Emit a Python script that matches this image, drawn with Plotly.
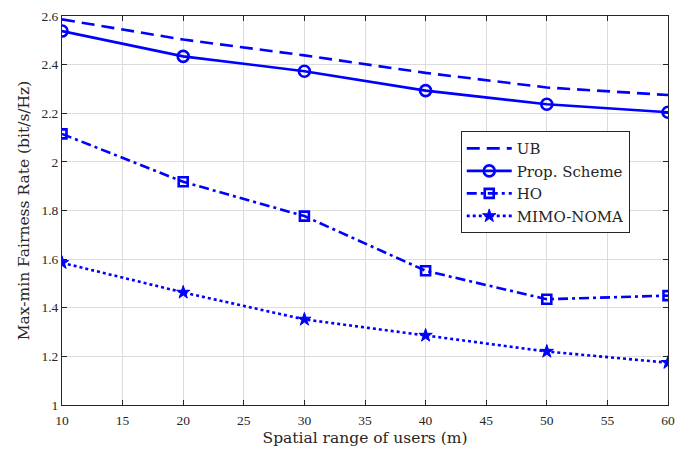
import plotly.graph_objects as go

x_vals = [10, 20, 30, 40, 50, 60]
ub = [2.586, 2.503, 2.438, 2.366, 2.306, 2.275]
prop = [2.538, 2.434, 2.373, 2.293, 2.237, 2.204]
ho = [2.115, 1.918, 1.777, 1.552, 1.435, 1.450]
mimo = [1.585, 1.463, 1.352, 1.286, 1.220, 1.174]

x_ticks = [10, 15, 20, 25, 30, 35, 40, 45, 50, 55, 60]
y_ticks = [1, 1.2, 1.4, 1.6, 1.8, 2, 2.2, 2.4, 2.6]
y_tick_labels = ["1", "1.2", "1.4", "1.6", "1.8", "2", "2.2", "2.4", "2.6"]

TICK_FONT = "Liberation Serif"
TEXT_FONT = "DejaVu Serif"
BLUE = "#0000ff"
DARK = "#262626"

fig = go.Figure()
fig.add_trace(go.Scatter(x=x_vals, y=ub, name="UB", mode="lines",
                         line=dict(color=BLUE, width=2.6, dash="13px,7px")))
fig.add_trace(go.Scatter(x=x_vals, y=prop, name="Prop. Scheme", mode="lines+markers",
                         line=dict(color=BLUE, width=2.6),
                         marker=dict(symbol="circle-open", size=11, color=BLUE, line=dict(width=2.6))))
fig.add_trace(go.Scatter(x=x_vals, y=ho, name="HO", mode="lines+markers",
                         line=dict(color=BLUE, width=2.6, dash="10px,4px,3px,4px"),
                         marker=dict(symbol="square-open", size=9, color=BLUE, line=dict(width=2.6))))
fig.add_trace(go.Scatter(x=x_vals, y=mimo, name="MIMO-NOMA", mode="lines+markers",
                         line=dict(color=BLUE, width=2.6, dash="3px,3px"),
                         marker=dict(symbol="star", size=10, color=BLUE, line=dict(width=1, color=BLUE))))

axis_common = dict(showgrid=True, gridcolor="#dcdcdc", gridwidth=1,
                   showline=True, linecolor=DARK, linewidth=1, mirror="ticks",
                   ticks="inside", ticklen=5, tickcolor=DARK, automargin=False,
                   tickfont=dict(family=TICK_FONT, size=13.5, color=DARK), zeroline=False)

fig.update_xaxes(range=[10, 60], tickvals=x_ticks, ticklabelstandoff=3,
                 title=dict(text="Spatial range of users (m)", font=dict(family=TEXT_FONT, size=15.5, color=DARK), standoff=4),
                 **axis_common)
fig.update_yaxes(range=[1, 2.6], tickvals=y_ticks, ticktext=y_tick_labels,
                 title=dict(text="Max-min Fairness Rate (bit/s/Hz)", font=dict(family=TEXT_FONT, size=15.5, color=DARK), standoff=7),
                 **axis_common)

fig.update_layout(width=675, height=450, plot_bgcolor="white", paper_bgcolor="white",
                  margin=dict(l=62, r=7, t=16, b=45),
                  legend=dict(x=0.658, y=0.704, xanchor="left", yanchor="top",
                              bgcolor="white", bordercolor=DARK, borderwidth=1,
                              font=dict(family=TEXT_FONT, size=15, color=DARK),
                              itemwidth=45, tracegroupgap=0),
                  showlegend=True)

fig.write_html("out.html", config={"displayModeBar": False},
               post_script="document.body.style.margin='0';document.body.style.overflow='hidden';")
